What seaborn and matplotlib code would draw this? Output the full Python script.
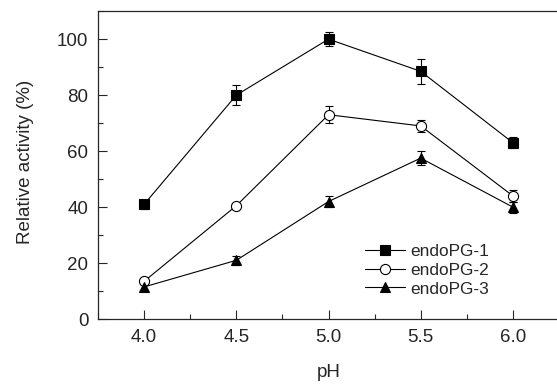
import pandas as pd
import seaborn as sns
import matplotlib.pyplot as plt
from matplotlib.ticker import MultipleLocator

# valores
ph = [4.0, 4.5, 5.0, 5.5, 6.0]
pg1 = [41, 80, 100, 88.5, 63]
pg1_err = [1.5, 3.5, 2.5, 4.5, 2]
pg2 = [13.5, 40.5, 73, 69, 44]
pg2_err = [1, 1, 3, 2, 2]
pg3 = [11.5, 21, 42, 57.5, 40]
pg3_err = [1.5, 1.5, 2, 2.5, 2]
nombres = ['endoPG-1', 'endoPG-2', 'endoPG-3']

df = pd.DataFrame({
    'pH': ph * 3,
    'act': pg1 + pg2 + pg3,
    'err': pg1_err + pg2_err + pg3_err,
    'enzima': [n for n in nombres for _ in ph],
})

sns.set_style('ticks')
plt.rcParams['font.family'] = ['Liberation Sans', 'DejaVu Sans']

fig = plt.figure(figsize=(5.57, 3.84), dpi=100)
ax = fig.add_axes([0.176, 0.169, 0.8276, 0.802])

marcadores = {'endoPG-1': 's', 'endoPG-2': 'o', 'endoPG-3': '^'}
for n in nombres:
    d = df[df['enzima'] == n]
    ax.errorbar(d['pH'], d['act'], yerr=d['err'], fmt='none', ecolor='black',
                elinewidth=0.8, capsize=3.2, capthick=0.8, zorder=2)

sns.lineplot(data=df, x='pH', y='act', style='enzima', markers=marcadores,
             dashes=False, color='black', linewidth=0.8, markersize=7.3,
             markeredgecolor='black', markeredgewidth=0.8, ax=ax, zorder=3)

# circulos vacios para endoPG-2
for line in ax.lines:
    if line.get_marker() == 'o':
        line.set_markerfacecolor('white')

ax.set_xlim(3.75, 6.25)
ax.set_ylim(0, 110)
ax.xaxis.set_major_locator(MultipleLocator(0.5))
ax.xaxis.set_minor_locator(MultipleLocator(0.25))
ax.yaxis.set_major_locator(MultipleLocator(20))
ax.yaxis.set_minor_locator(MultipleLocator(10))
ax.xaxis.set_major_formatter(plt.FormatStrFormatter('%.1f'))
ax.tick_params(which='major', direction='in', length=6.5, width=0.8, labelsize=13.5, pad=7)
ax.tick_params(which='minor', direction='in', length=3.8, width=0.8)
for s in ax.spines.values():
    s.set_linewidth(0.9)
# el borde derecho queda fuera de la imagen
ax.spines['right'].set_visible(False)

ax.set_xlabel('pH', fontsize=13.5, labelpad=13)
ax.set_ylabel('Relative activity (%)', fontsize=13.5)
ax.yaxis.set_label_coords(-0.139, 0.51)

h, l = ax.get_legend_handles_labels()
leg = ax.legend(h, l, loc='center left', bbox_to_anchor=(0.579, 0.159), frameon=False,
                fontsize=12.4, handlelength=2.33, handletextpad=0.3, labelspacing=0.22,
                borderpad=0, borderaxespad=0)
for lh in leg.legend_handles:
    if lh.get_marker() == 'o':
        lh.set_markerfacecolor('white')

plt.savefig('out.png', dpi=100)
plt.close()
